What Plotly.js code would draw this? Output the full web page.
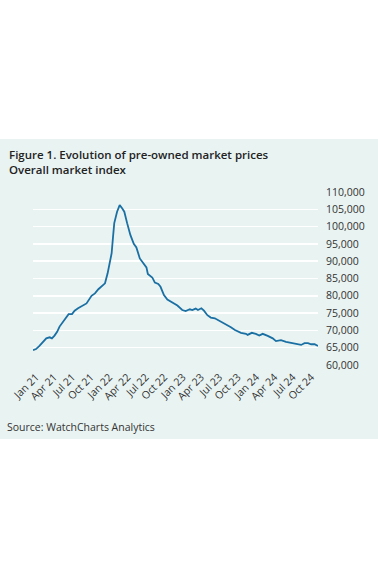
<!DOCTYPE html>
<html>
<head>
<meta charset="utf-8">
<script src="https://cdn.plot.ly/plotly-3.0.1.min.js"></script>
<style>
html,body{margin:0;padding:0;background:#fff;width:378px;height:580px;overflow:hidden;}
#chart{position:absolute;left:0;top:139px;width:378px;height:300px;}
</style>
</head>
<body>
<div id="chart"></div>
<script>
const dates = [
'2021-01-01','2021-01-16','2021-02-02','2021-02-19','2021-03-08','2021-03-25','2021-04-05','2021-04-18',
'2021-05-01','2021-05-13','2021-05-29','2021-06-15','2021-06-27','2021-07-14','2021-07-27','2021-08-13',
'2021-08-30','2021-09-08','2021-09-24','2021-10-19','2021-11-05','2021-11-22','2021-12-08','2021-12-25',
'2022-01-07','2022-01-17','2022-01-27','2022-02-03','2022-02-09','2022-02-23','2022-03-08','2022-03-20',
'2022-03-31','2022-04-14','2022-04-30','2022-05-17','2022-05-30','2022-06-16','2022-07-06','2022-07-19',
'2022-07-26','2022-08-17','2022-08-30','2022-09-16','2022-09-27','2022-10-06','2022-10-14','2022-10-31',
'2022-11-25','2022-12-20','2023-01-13','2023-01-30','2023-02-20','2023-03-04','2023-03-21','2023-04-01',
'2023-04-18','2023-05-01','2023-05-18','2023-06-04','2023-06-24','2023-07-15','2023-08-06','2023-08-26',
'2023-09-12','2023-10-02','2023-10-23','2023-11-01','2023-11-26','2023-12-04','2023-12-25','2024-01-14',
'2024-01-31','2024-02-17','2024-03-13','2024-04-07','2024-04-23','2024-05-18','2024-06-12','2024-07-07',
'2024-08-01','2024-08-26','2024-09-12','2024-09-29','2024-10-15','2024-11-01','2024-11-18'
];
const indexValues = [
64300,64600,65500,66700,67700,68000,67700,68500,
69600,71100,72500,74000,74700,74700,75700,76400,
76900,77400,77800,80000,80700,81900,82600,83600,
86500,89400,92300,97100,101000,104300,106200,105300,
104300,101000,97600,95000,94000,90800,89200,88200,
86300,85300,83800,83400,82600,81200,80200,78900,
78100,77200,75900,75600,76100,75900,76300,75900,
76400,75700,74400,73700,73500,72800,72300,71600,
70900,70100,69500,69300,69000,68700,69300,69000,
68500,69000,68400,67700,66900,67200,66700,66400,
66100,65800,66300,66300,66000,66000,65500
];
const titleLines = ['Figure 1. Evolution of pre-owned market prices', 'Overall market index'];
const sourceText = 'Source: WatchCharts Analytics';
const yTicks = [60000,65000,70000,75000,80000,85000,90000,95000,100000,105000,110000];

const trace = {
  x: dates, y: indexValues, type: 'scatter', mode: 'lines',
  line: {color: '#1a6fa3', width: 1.8},
  hoverinfo: 'skip'
};
const titleFont = {family: '"Open Sans", sans-serif', size: 11.5, color: '#222', weight: 600};
const layout = {
  width: 378, height: 300,
  paper_bgcolor: '#e9f3f2', plot_bgcolor: '#e9f3f2',
  margin: {l: 33, r: 60, t: 53, b: 74},
  font: {family: '"Open Sans", sans-serif', color: '#333', size: 10},
  showlegend: false,
  xaxis: {
    type: 'date', range: [dates[0], dates[dates.length-1]],
    tick0: '2021-01-01', dtick: 'M3', tickformat: '%b %y', tickangle: -45,
    showgrid: false, zeroline: false, showline: false,
    ticks: '', ticklabelstandoff: 3, ticklabelshift: 3,
    tickfont: {size: 10.5, color: '#333'}
  },
  yaxis: {
    side: 'right', range: [60000, 110000], tickvals: yTicks,
    tickformat: ',d', showgrid: true, gridcolor: '#ffffff', gridwidth: 1.5,
    zeroline: false, showline: false,
    ticks: 'outside', ticklen: 5, tickcolor: 'rgba(0,0,0,0)',
    tickfont: {size: 10.5, color: '#333'}
  },
  annotations: [
    {text: titleLines.join('<br>'), xref: 'paper', yref: 'paper', x: -26/285, xanchor: 'left',
     align: 'left', y: (226-22.5)/173, yanchor: 'middle', showarrow: false, font: titleFont},
    {text: sourceText, xref: 'paper', yref: 'paper',
     x: -28/285, xanchor: 'left', y: -(426.5-365)/173, yanchor: 'middle',
     showarrow: false, font: {size: 10.5, color: '#333'}}
  ]
};
Plotly.newPlot('chart', [trace], layout, {displayModeBar: false, staticPlot: true});
</script>
</body>
</html>
